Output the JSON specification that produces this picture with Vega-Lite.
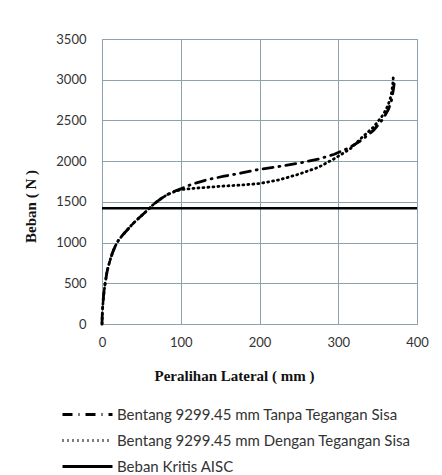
{
  "$schema": "https://vega.github.io/schema/vega-lite/v6.json",
  "width": 315,
  "height": 285,
  "autosize": "none",
  "padding": {"left": 102, "top": 39, "right": 25, "bottom": 151},
  "background": "white",
  "config": {
    "view": {"stroke": "#8da2aa", "strokeWidth": 1},
    "axis": {
      "grid": true, "gridColor": "#8da2aa", "gridOpacity": 1, "gridWidth": 1,
      "domain": false, "ticks": false, "labelFlush": false, "format": "d",
      "labelFont": "Lato", "labelFontSize": 13, "labelColor": "#333333",
      "titleFont": "Liberation Serif", "titleFontSize": 15, "titleFontWeight": "bold", "titleColor": "#111111"
    },
    "legend": {"labelFont": "Lato", "labelFontSize": 15, "labelColor": "#333333", "labelLimit": 0}
  },
  "datasets": {
    "curves": [
      {"series": "Bentang 9299.45 mm Tanpa Tegangan Sisa", "x": 0, "y": 0},
      {"series": "Bentang 9299.45 mm Tanpa Tegangan Sisa", "x": 0.3, "y": 100},
      {"series": "Bentang 9299.45 mm Tanpa Tegangan Sisa", "x": 0.8, "y": 200},
      {"series": "Bentang 9299.45 mm Tanpa Tegangan Sisa", "x": 2, "y": 350},
      {"series": "Bentang 9299.45 mm Tanpa Tegangan Sisa", "x": 4, "y": 500},
      {"series": "Bentang 9299.45 mm Tanpa Tegangan Sisa", "x": 6, "y": 620},
      {"series": "Bentang 9299.45 mm Tanpa Tegangan Sisa", "x": 8, "y": 710},
      {"series": "Bentang 9299.45 mm Tanpa Tegangan Sisa", "x": 10.5, "y": 790},
      {"series": "Bentang 9299.45 mm Tanpa Tegangan Sisa", "x": 13.5, "y": 880},
      {"series": "Bentang 9299.45 mm Tanpa Tegangan Sisa", "x": 17, "y": 960},
      {"series": "Bentang 9299.45 mm Tanpa Tegangan Sisa", "x": 21, "y": 1030},
      {"series": "Bentang 9299.45 mm Tanpa Tegangan Sisa", "x": 26, "y": 1090},
      {"series": "Bentang 9299.45 mm Tanpa Tegangan Sisa", "x": 32, "y": 1155},
      {"series": "Bentang 9299.45 mm Tanpa Tegangan Sisa", "x": 40, "y": 1240},
      {"series": "Bentang 9299.45 mm Tanpa Tegangan Sisa", "x": 49, "y": 1320},
      {"series": "Bentang 9299.45 mm Tanpa Tegangan Sisa", "x": 58, "y": 1400},
      {"series": "Bentang 9299.45 mm Tanpa Tegangan Sisa", "x": 66, "y": 1475},
      {"series": "Bentang 9299.45 mm Tanpa Tegangan Sisa", "x": 75, "y": 1540},
      {"series": "Bentang 9299.45 mm Tanpa Tegangan Sisa", "x": 83, "y": 1590},
      {"series": "Bentang 9299.45 mm Tanpa Tegangan Sisa", "x": 92, "y": 1630},
      {"series": "Bentang 9299.45 mm Tanpa Tegangan Sisa", "x": 100, "y": 1660},
      {"series": "Bentang 9299.45 mm Tanpa Tegangan Sisa", "x": 115, "y": 1720},
      {"series": "Bentang 9299.45 mm Tanpa Tegangan Sisa", "x": 133, "y": 1770},
      {"series": "Bentang 9299.45 mm Tanpa Tegangan Sisa", "x": 155, "y": 1815},
      {"series": "Bentang 9299.45 mm Tanpa Tegangan Sisa", "x": 175, "y": 1850},
      {"series": "Bentang 9299.45 mm Tanpa Tegangan Sisa", "x": 200, "y": 1900},
      {"series": "Bentang 9299.45 mm Tanpa Tegangan Sisa", "x": 225, "y": 1935},
      {"series": "Bentang 9299.45 mm Tanpa Tegangan Sisa", "x": 250, "y": 1975},
      {"series": "Bentang 9299.45 mm Tanpa Tegangan Sisa", "x": 275, "y": 2025},
      {"series": "Bentang 9299.45 mm Tanpa Tegangan Sisa", "x": 295, "y": 2085},
      {"series": "Bentang 9299.45 mm Tanpa Tegangan Sisa", "x": 315, "y": 2170},
      {"series": "Bentang 9299.45 mm Tanpa Tegangan Sisa", "x": 330, "y": 2260},
      {"series": "Bentang 9299.45 mm Tanpa Tegangan Sisa", "x": 345, "y": 2380},
      {"series": "Bentang 9299.45 mm Tanpa Tegangan Sisa", "x": 357, "y": 2520},
      {"series": "Bentang 9299.45 mm Tanpa Tegangan Sisa", "x": 364, "y": 2640},
      {"series": "Bentang 9299.45 mm Tanpa Tegangan Sisa", "x": 368, "y": 2760},
      {"series": "Bentang 9299.45 mm Tanpa Tegangan Sisa", "x": 370, "y": 2880},
      {"series": "Bentang 9299.45 mm Tanpa Tegangan Sisa", "x": 371, "y": 2950},
      {"series": "Bentang 9299.45 mm Dengan Tegangan Sisa", "x": 0, "y": 0},
      {"series": "Bentang 9299.45 mm Dengan Tegangan Sisa", "x": 0.3, "y": 100},
      {"series": "Bentang 9299.45 mm Dengan Tegangan Sisa", "x": 0.8, "y": 200},
      {"series": "Bentang 9299.45 mm Dengan Tegangan Sisa", "x": 2, "y": 350},
      {"series": "Bentang 9299.45 mm Dengan Tegangan Sisa", "x": 4, "y": 500},
      {"series": "Bentang 9299.45 mm Dengan Tegangan Sisa", "x": 6, "y": 620},
      {"series": "Bentang 9299.45 mm Dengan Tegangan Sisa", "x": 8, "y": 710},
      {"series": "Bentang 9299.45 mm Dengan Tegangan Sisa", "x": 10.5, "y": 790},
      {"series": "Bentang 9299.45 mm Dengan Tegangan Sisa", "x": 13.5, "y": 880},
      {"series": "Bentang 9299.45 mm Dengan Tegangan Sisa", "x": 17, "y": 960},
      {"series": "Bentang 9299.45 mm Dengan Tegangan Sisa", "x": 21, "y": 1030},
      {"series": "Bentang 9299.45 mm Dengan Tegangan Sisa", "x": 26, "y": 1090},
      {"series": "Bentang 9299.45 mm Dengan Tegangan Sisa", "x": 32, "y": 1155},
      {"series": "Bentang 9299.45 mm Dengan Tegangan Sisa", "x": 40, "y": 1240},
      {"series": "Bentang 9299.45 mm Dengan Tegangan Sisa", "x": 49, "y": 1320},
      {"series": "Bentang 9299.45 mm Dengan Tegangan Sisa", "x": 58, "y": 1400},
      {"series": "Bentang 9299.45 mm Dengan Tegangan Sisa", "x": 66, "y": 1475},
      {"series": "Bentang 9299.45 mm Dengan Tegangan Sisa", "x": 75, "y": 1540},
      {"series": "Bentang 9299.45 mm Dengan Tegangan Sisa", "x": 83, "y": 1590},
      {"series": "Bentang 9299.45 mm Dengan Tegangan Sisa", "x": 92, "y": 1625},
      {"series": "Bentang 9299.45 mm Dengan Tegangan Sisa", "x": 100, "y": 1650},
      {"series": "Bentang 9299.45 mm Dengan Tegangan Sisa", "x": 115, "y": 1665},
      {"series": "Bentang 9299.45 mm Dengan Tegangan Sisa", "x": 133, "y": 1678},
      {"series": "Bentang 9299.45 mm Dengan Tegangan Sisa", "x": 155, "y": 1695},
      {"series": "Bentang 9299.45 mm Dengan Tegangan Sisa", "x": 175, "y": 1705},
      {"series": "Bentang 9299.45 mm Dengan Tegangan Sisa", "x": 200, "y": 1725},
      {"series": "Bentang 9299.45 mm Dengan Tegangan Sisa", "x": 225, "y": 1770},
      {"series": "Bentang 9299.45 mm Dengan Tegangan Sisa", "x": 250, "y": 1840},
      {"series": "Bentang 9299.45 mm Dengan Tegangan Sisa", "x": 275, "y": 1925},
      {"series": "Bentang 9299.45 mm Dengan Tegangan Sisa", "x": 295, "y": 2030},
      {"series": "Bentang 9299.45 mm Dengan Tegangan Sisa", "x": 315, "y": 2150},
      {"series": "Bentang 9299.45 mm Dengan Tegangan Sisa", "x": 330, "y": 2290},
      {"series": "Bentang 9299.45 mm Dengan Tegangan Sisa", "x": 345, "y": 2420},
      {"series": "Bentang 9299.45 mm Dengan Tegangan Sisa", "x": 357, "y": 2570},
      {"series": "Bentang 9299.45 mm Dengan Tegangan Sisa", "x": 363, "y": 2680},
      {"series": "Bentang 9299.45 mm Dengan Tegangan Sisa", "x": 367, "y": 2800},
      {"series": "Bentang 9299.45 mm Dengan Tegangan Sisa", "x": 369, "y": 2920},
      {"series": "Bentang 9299.45 mm Dengan Tegangan Sisa", "x": 370, "y": 3050}
    ],
    "aisc": [
      {"series": "Beban Kritis AISC", "y": 1420}
    ]
  },
  "layer": [
    {
      "data": {"name": "curves"},
      "mark": {"type": "line", "strokeCap": "round"},
      "encoding": {
        "x": {"field": "x", "type": "quantitative", "scale": {"domain": [0, 400], "nice": false},
              "axis": {"values": [0, 100, 200, 300, 400], "title": "Peralihan Lateral ( mm )", "labelPadding": 12,
                       "titleX": 132, "titleY": 51, "titleBaseline": "middle", "titleAnchor": "start", "titleAlign": "center"}},
        "y": {"field": "y", "type": "quantitative", "scale": {"domain": [0, 3500], "nice": false},
              "axis": {"values": [0, 500, 1000, 1500, 2000, 2500, 3000, 3500], "title": "Beban ( N )", "labelPadding": 16,
                       "titleX": -72, "titleY": 167, "titleAngle": -90, "titleBaseline": "middle", "titleAlign": "center", "titleAnchor": "start"}},
        "color": {"field": "series", "type": "nominal",
                  "scale": {"domain": ["Bentang 9299.45 mm Tanpa Tegangan Sisa", "Bentang 9299.45 mm Dengan Tegangan Sisa", "Beban Kritis AISC"], "range": ["#000000", "#000000", "#000000"]},
                  "legend": {"orient": "none", "legendX": -22, "legendY": 368, "title": null, "symbolType": "M-5,0H5", "symbolSize": 100, "symbolStrokeWidth": 3, "labelOffset": 22, "rowPadding": 10, "padding": 0}},
        "strokeDash": {"field": "series", "type": "nominal",
                  "scale": {"domain": ["Bentang 9299.45 mm Tanpa Tegangan Sisa", "Bentang 9299.45 mm Dengan Tegangan Sisa", "Beban Kritis AISC"], "range": [[10, 6, 1, 6], [1, 4], [1, 0]]},
                  "legend": {"orient": "none", "legendX": -22, "legendY": 368, "title": null, "symbolType": "M-5,0H5", "symbolSize": 100, "symbolStrokeWidth": 3, "labelOffset": 22, "rowPadding": 10, "padding": 0}},
        "strokeWidth": {"value": 2.8},
        "detail": {"field": "series"}
      }
    },
    {
      "data": {"name": "aisc"},
      "mark": {"type": "rule", "strokeWidth": 2.5},
      "encoding": {
        "y": {"field": "y", "type": "quantitative"},
        "color": {"field": "series", "type": "nominal"},
        "strokeDash": {"field": "series", "type": "nominal"}
      }
    }
  ]
}
